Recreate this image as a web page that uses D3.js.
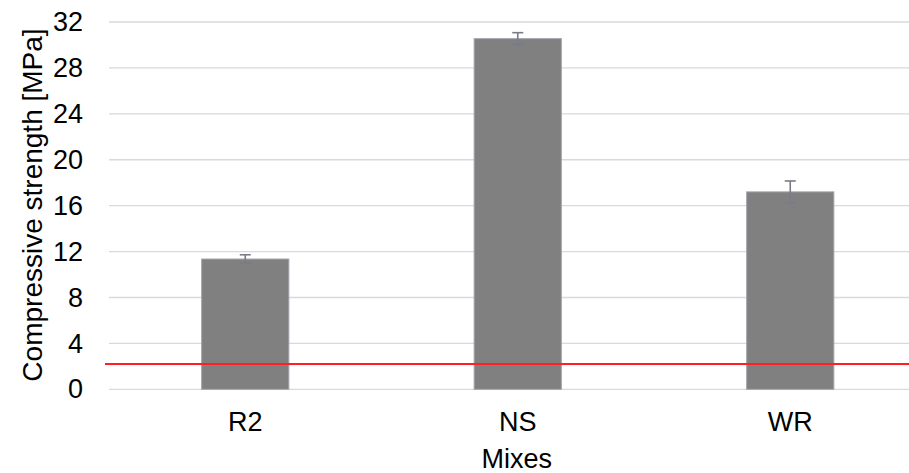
<!DOCTYPE html>
<html>
<head>
<meta charset="utf-8">
<script src="https://cdn.jsdelivr.net/npm/d3@7/dist/d3.min.js"></script>
<style>
html,body{margin:0;padding:0;background:#fff;}
svg{display:block;font-family:"Liberation Sans",Arial,sans-serif;}
</style>
</head>
<body>
<svg id="chart" width="909" height="473"></svg>
<script>
const categories = ["R2", "NS", "WR"];
const values = [11.35, 30.55, 17.2];
const errors = [0.37, 0.52, 0.95];
const yTicks = [0, 4, 8, 12, 16, 20, 24, 28, 32];
const referenceValue = 2.2;
const xTitle = "Mixes";
const yTitle = "Compressive strength [MPa]";

(function () {
const svg = d3.select("#chart");
const mLeft = 109, mRight = 926.5, mTop = 22, mBottom = 389.3;
const FONT = "'Liberation Sans', Arial, sans-serif";

const x = d3.scaleBand().domain(categories).range([mLeft, mRight])
  .paddingInner(0.68).paddingOuter(0.34);
const y = d3.scaleLinear().domain([0, 32]).range([mBottom, mTop]);

// gridlines
svg.append("g").selectAll("line").data(yTicks).join("line")
  .attr("x1", mLeft).attr("x2", 909)
  .attr("y1", d => y(d)).attr("y2", d => y(d))
  .attr("stroke", "#d9d9d9").attr("stroke-width", 1.3);

// y tick labels
const yAxis = d3.axisLeft(y).tickValues(yTicks).tickSize(0).tickPadding(0);
const gy = svg.append("g").attr("transform", "translate(83,0)").call(yAxis);
gy.select(".domain").remove();
gy.selectAll("text").attr("font-size", 27).attr("fill", "#000").attr("font-family", FONT);

// bars
svg.append("g").selectAll("rect").data(categories).join("rect")
  .attr("x", d => x(d)).attr("width", x.bandwidth())
  .attr("y", (d, i) => y(values[i]))
  .attr("height", (d, i) => y(0) - y(values[i]))
  .attr("fill", "#808080").attr("stroke", "#a3a3ad").attr("stroke-width", 1);

// error bars
const eb = svg.append("g").attr("stroke", "#7a7a8a").attr("stroke-width", 1.6);
categories.forEach((c, i) => {
  const cx = x(c) + x.bandwidth() / 2;
  const y1 = y(values[i] + errors[i]), y2 = y(values[i] - errors[i]);
  eb.append("line").attr("x1", cx).attr("x2", cx).attr("y1", y1).attr("y2", y2);
  eb.append("line").attr("x1", cx - 5.5).attr("x2", cx + 5.5).attr("y1", y1).attr("y2", y1);
  eb.append("line").attr("x1", cx - 5.5).attr("x2", cx + 5.5).attr("y1", y2).attr("y2", y2);
});

// reference line
svg.append("line").attr("x1", 105).attr("x2", 909)
  .attr("y1", y(referenceValue)).attr("y2", y(referenceValue))
  .attr("stroke", "#ff2020").attr("stroke-width", 2);

// x labels
const xAxis = d3.axisBottom(x).tickSize(0).tickPadding(0);
const gx = svg.append("g").attr("transform", "translate(0,412)").call(xAxis);
gx.select(".domain").remove();
gx.selectAll("text").attr("font-size", 27).attr("fill", "#000").attr("dy", "0.71em")
  .attr("font-family", FONT);

// titles
svg.append("text").attr("x", (mLeft + mRight) / 2 - 1).attr("y", 468)
  .attr("text-anchor", "middle").attr("font-size", 27).attr("font-family", FONT).text(xTitle);
svg.append("text").attr("transform", "translate(42,205) rotate(-90)")
  .attr("text-anchor", "middle").attr("font-size", 28).attr("font-family", FONT).text(yTitle);
})();
</script>
</body>
</html>
